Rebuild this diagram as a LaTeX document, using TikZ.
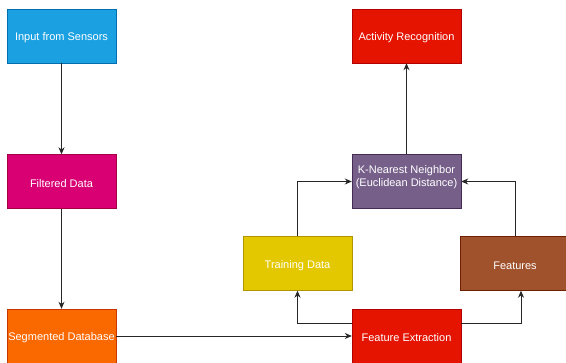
\documentclass[tikz,border=0pt]{standalone}
\usepackage{fontspec}
\setmainfont{Liberation Sans}
\usetikzlibrary{arrows.meta}
\definecolor{azul}{HTML}{1BA1E2}
\definecolor{azulb}{HTML}{006EAF}
\definecolor{magenta}{HTML}{D80073}
\definecolor{magentab}{HTML}{A50040}
\definecolor{naranja}{HTML}{FA6800}
\definecolor{naranjab}{HTML}{C73500}
\definecolor{amarillo}{HTML}{E3C800}
\definecolor{amarillob}{HTML}{B09500}
\definecolor{morado}{HTML}{76608A}
\definecolor{moradob}{HTML}{432D57}
\definecolor{cafe}{HTML}{A0522D}
\definecolor{cafeb}{HTML}{6D1F00}
\definecolor{rojo}{HTML}{E51400}
\definecolor{rojob}{HTML}{B20000}
\begin{document}
\begin{tikzpicture}[x=1pt, y=-1pt,
    caja/.style={minimum width=109pt, minimum height=54pt, inner sep=0pt, align=center,
        text height=12pt, text=white, font=\fontsize{11}{13}\selectfont},
    flecha/.style={-{Stealth[length=7pt, width=6pt]}, draw=black!85, line width=0.8pt}]
    \useasboundingbox (0,0) rectangle (566,363);

    \node[caja, fill=azul, draw=azulb] (sensores) at (61.5, 36) {Input from Sensors};
    \node[caja, fill=magenta, draw=magentab] (filtrado) at (61.5, 181.5) {Filtered Data};
    \node[caja, fill=naranja, draw=naranjab] (segmentado) at (61.5, 336) {Segmented Database};

    \node[caja, fill=rojo, draw=rojob] (actividad) at (406.5, 36) {Activity Recognition};
    \node[caja, fill=morado, draw=moradob] (knn) at (406.5, 181.5) {K-Nearest Neighbor\\(Euclidean Distance)};
    \node[caja, fill=amarillo, draw=amarillob] (entrenamiento) at (297.5, 263.5) {Training Data};
    \node[caja, fill=cafe, draw=cafeb, minimum width=110pt] (caracteristicas) at (515, 263.5) {Features};
    \node[caja, fill=rojo, draw=rojob] (extraccion) at (406.5, 336) {Feature Extraction};

    % Flujo principal
    \draw[flecha] (sensores) -- (filtrado);
    \draw[flecha] (filtrado) -- (segmentado);
    \draw[flecha] (segmentado) -- (extraccion);

    % Clasificacion
    \draw[flecha] ([yshift=13pt]extraccion.west) -| (entrenamiento.south);
    \draw[flecha] ([yshift=13pt]extraccion.east) -| ([xshift=6pt]caracteristicas.south);
    \draw[flecha] (entrenamiento.north) |- (knn.west);
    \draw[flecha] (caracteristicas.north) |- (knn.east);
    \draw[flecha] (knn) -- (actividad);
\end{tikzpicture}
\end{document}
